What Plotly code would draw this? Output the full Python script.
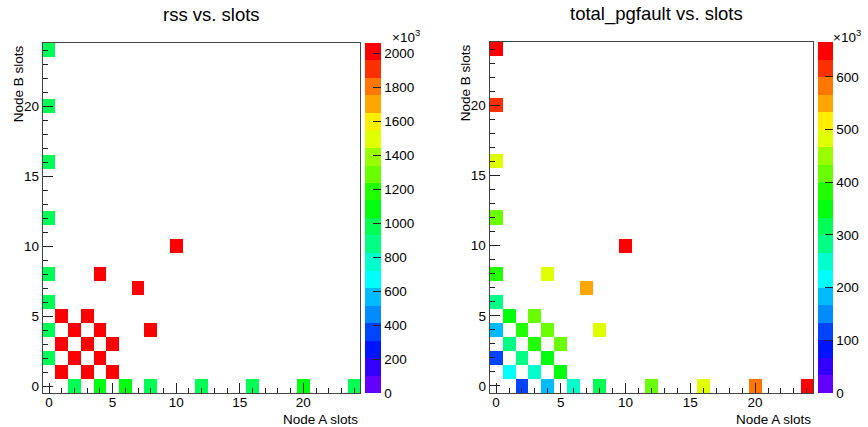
import plotly.graph_objects as go
import colorsys

W, H = 868, 427

# ---- data (values in units of 10^3) ----
node_a_slots = list(range(25))
node_b_slots = list(range(25))
cell_a = [0, 0, 0, 0, 0, 0, 0, 0,
          2, 4, 6, 8, 12, 16, 20, 24,
          1, 3, 5, 2, 4, 1, 3, 5, 2, 4, 1, 3,
          8, 7, 4, 10]
cell_b = [2, 4, 6, 8, 12, 16, 20, 24,
          0, 0, 0, 0, 0, 0, 0, 0,
          1, 1, 1, 2, 2, 3, 3, 3, 4, 4, 5, 5,
          4, 7, 8, 10]
rss_k = [990, 995, 1000, 1000, 1005, 1000, 1010, 1005,
         990, 1060, 1070, 1000, 1005, 1010, 1065, 1010,
         2010, 2020, 2030, 2015, 2025, 2020, 2030, 2040, 2030, 2040, 2030, 2045,
         2050, 2050, 2045, 2060]
pgfault_k = [115, 180, 290, 370, 420, 480, 615, 655,
             118, 182, 250, 315, 425, 485, 580, 666,
             215, 255, 360, 285, 352, 280, 378, 418, 375, 420, 355, 415,
             490, 550, 480, 660]
titles = ["rss vs. slots", "total_pgfault vs. slots"]
x_title = "Node A slots"
y_title = "Node B slots"


def grid(vals):
    z = [[None] * len(node_a_slots) for _ in node_b_slots]
    for a, b, v in zip(cell_a, cell_b, vals):
        z[b][a] = v
    return z


def root_colorscale(ndiv=20, ncol=50):
    cs = []
    for j in range(ndiv):
        idx = min(int((j + 0.99) * ncol / ndiv), ncol - 1)
        hue = 280 - (idx + 1) * 280 / ncol
        r, g, b = colorsys.hls_to_rgb(hue / 360, 0.5, 1.0)
        c = f"rgb({round(r*255)},{round(g*255)},{round(b*255)})"
        cs.append([j / ndiv, c])
        cs.append([(j + 1) / ndiv, c])
    return cs


def px(x):
    return x / W


def py(y):
    return 1 - y / H


FONT = "Liberation Sans, Arial, Helvetica, sans-serif"
cscale = root_colorscale()

fig = go.Figure()

panels = [
    dict(vals=rss_k, xa="x", ya="y", frame=(43, 363, 43, 393), cb=(368, 16), dtick=200,
         title_x=213, exp_x=393),
    dict(vals=pgfault_k, xa="x2", ya="y2", frame=(493, 819, 42, 393), cb=(824, 15), dtick=100,
         title_x=661, exp_x=837),
]

for i, p in enumerate(panels):
    x0, x1, y0, y1 = p["frame"]
    fig.add_trace(go.Heatmap(
        x=node_a_slots, y=node_b_slots, z=grid(p["vals"]),
        xaxis=p["xa"], yaxis=p["ya"],
        colorscale=cscale, zmin=0, zmax=max(p["vals"]),
        hoverongaps=False,
        colorbar=dict(
            x=px(p["cb"][0]), xanchor="left", xpad=0,
            y=py((y0 + y1) / 2), yanchor="middle", ypad=0,
            len=(y1 - y0), lenmode="pixels",
            thickness=p["cb"][1], outlinewidth=0,
            ticks="inside", ticklen=8, tickcolor="#222", tickwidth=1,
            dtick=p["dtick"], tick0=0,
            tickfont=dict(family=FONT, size=13.5, color="black"),
        ),
    ))
    axis_common = dict(
        showgrid=False, zeroline=False, showline=True, linecolor="#444", linewidth=1,
        mirror=True, ticks="inside", ticklen=10, tickcolor="#222", tickwidth=1,
        tick0=0, dtick=5, range=[-0.5, 24.5],
        minor=dict(dtick=1, ticks="inside", ticklen=5, tickcolor="#222", tickwidth=1),
        tickfont=dict(family=FONT, size=13.5, color="black"),
    )
    xk = "xaxis" if i == 0 else "xaxis2"
    yk = "yaxis" if i == 0 else "yaxis2"
    fig.update_layout(**{
        xk: dict(axis_common, domain=[px(x0), px(x1)], anchor=p["ya"], ticklabelstandoff=-3),
        yk: dict(axis_common, domain=[py(y1), py(y0)], anchor=p["xa"]),
    })
    # titles and axis titles
    fig.add_annotation(x=px(p["title_x"]), y=py(14), xref="paper", yref="paper",
                       text=titles[i], showarrow=False, xanchor="center", yanchor="middle",
                       font=dict(family=FONT, size=18.5, color="black"))
    fig.add_annotation(x=px(x1), y=py(419), xref="paper", yref="paper",
                       text=x_title, showarrow=False, xanchor="right", yanchor="middle",
                       font=dict(family=FONT, size=13.5, color="black"))
    fig.add_annotation(x=px(x0 - 24), y=py(y0), xref="paper", yref="paper",
                       text=y_title, showarrow=False, textangle=-90,
                       xanchor="center", yanchor="top",
                       font=dict(family=FONT, size=13.5, color="black"))
    fig.add_annotation(x=px(p["exp_x"]), y=py(36), xref="paper", yref="paper",
                       text="\u00d710<sup>3</sup>", showarrow=False, xanchor="left", yanchor="middle",
                       font=dict(family=FONT, size=13.5, color="black"))

fig.update_layout(
    width=W, height=H, margin=dict(l=0, r=0, t=0, b=0),
    paper_bgcolor="white", plot_bgcolor="white", showlegend=False,
)

fig.write_html("out.html")
